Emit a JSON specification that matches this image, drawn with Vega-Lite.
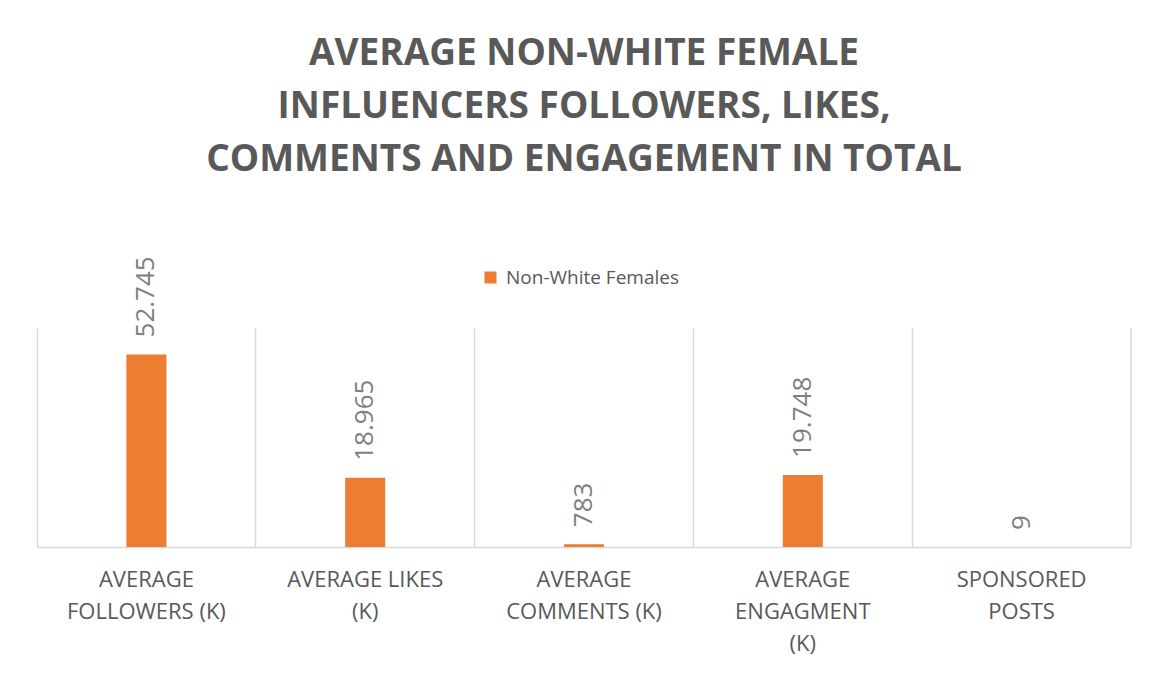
{
  "$schema": "https://vega.github.io/schema/vega-lite/v6.json",
  "autosize": {"type": "none"},
  "width": 1094,
  "height": 219,
  "padding": {"left": 37, "top": 328, "right": 27, "bottom": 128},
  "background": "white",
  "title": {
    "text": ["AVERAGE NON-WHITE FEMALE", "INFLUENCERS FOLLOWERS, LIKES,", "COMMENTS AND ENGAGEMENT IN TOTAL"],
    "font": "Open Sans",
    "fontSize": 37,
    "fontWeight": "bold",
    "color": "#595959",
    "anchor": "middle",
    "lineHeight": 53,
    "offset": 77
  },
  "data": {
    "values": [
      {"category": "AVERAGE FOLLOWERS (K)", "value": 52.745, "label": "52.745", "series": "Non-White Females"},
      {"category": "AVERAGE LIKES (K)", "value": 18.965, "label": "18.965", "series": "Non-White Females"},
      {"category": "AVERAGE COMMENTS (K)", "value": 0.783, "label": "783", "series": "Non-White Females"},
      {"category": "AVERAGE ENGAGMENT (K)", "value": 19.748, "label": "19.748", "series": "Non-White Females"},
      {"category": "SPONSORED POSTS", "value": 0.009, "label": "9", "series": "Non-White Females"}
    ]
  },
  "encoding": {
    "x": {
      "field": "category",
      "type": "nominal",
      "sort": null,
      "scale": {
        "domain": ["AVERAGE FOLLOWERS (K)", "AVERAGE LIKES (K)", "AVERAGE COMMENTS (K)", "AVERAGE ENGAGMENT (K)", "SPONSORED POSTS"],
        "paddingInner": 0,
        "paddingOuter": 0
      },
      "axis": {
        "title": null,
        "labelAngle": 0,
        "labelFont": "Open Sans",
        "labelFontSize": 22,
        "labelColor": "#595959",
        "labelLineHeight": 32,
        "labelBaseline": "top",
        "labelPadding": 22,
        "labelLimit": 400,
        "ticks": false,
        "domainColor": "#d9d9d9",
        "domainWidth": 1.5,
        "grid": true,
        "gridColor": "#d9d9d9",
        "gridWidth": 1.5,
        "bandPosition": 0,
        "labelExpr": "datum.value == 'AVERAGE FOLLOWERS (K)' ? ['AVERAGE', 'FOLLOWERS (K)'] : datum.value == 'AVERAGE LIKES (K)' ? ['AVERAGE LIKES', '(K)'] : datum.value == 'AVERAGE COMMENTS (K)' ? ['AVERAGE', 'COMMENTS (K)'] : datum.value == 'AVERAGE ENGAGMENT (K)' ? ['AVERAGE', 'ENGAGMENT', '(K)'] : ['SPONSORED', 'POSTS']"
      }
    },
    "y": {
      "field": "value",
      "type": "quantitative",
      "scale": {"domain": [0, 60]},
      "axis": null
    }
  },
  "layer": [
    {
      "data": {"values": [{}]},
      "mark": {"type": "rule", "color": "#d9d9d9", "strokeWidth": 1.5},
      "encoding": {
        "x": {"datum": "SPONSORED POSTS", "bandPosition": 1},
        "y": null
      }
    },
    {
      "mark": {"type": "bar", "width": {"band": 0.183}},
      "encoding": {
        "color": {
          "field": "series",
          "type": "nominal",
          "scale": {"range": ["#ED7D31"]},
          "legend": {
            "title": null,
            "orient": "none",
            "legendX": 444,
            "legendY": -60,
            "symbolType": "square",
            "symbolSize": 144,
            "symbolStrokeWidth": 0,
            "labelFont": "Open Sans",
            "labelFontSize": 19,
            "labelColor": "#595959",
            "labelOffset": 6,
            "labelLimit": 400
          }
        }
      }
    },
    {
      "mark": {
        "type": "text",
        "angle": -90,
        "align": "left",
        "baseline": "middle",
        "dx": 17,
        "font": "Open Sans",
        "fontSize": 26,
        "color": "#7f7f7f"
      },
      "encoding": {
        "text": {"field": "label"}
      }
    }
  ],
  "config": {
    "view": {"stroke": null}
  }
}
